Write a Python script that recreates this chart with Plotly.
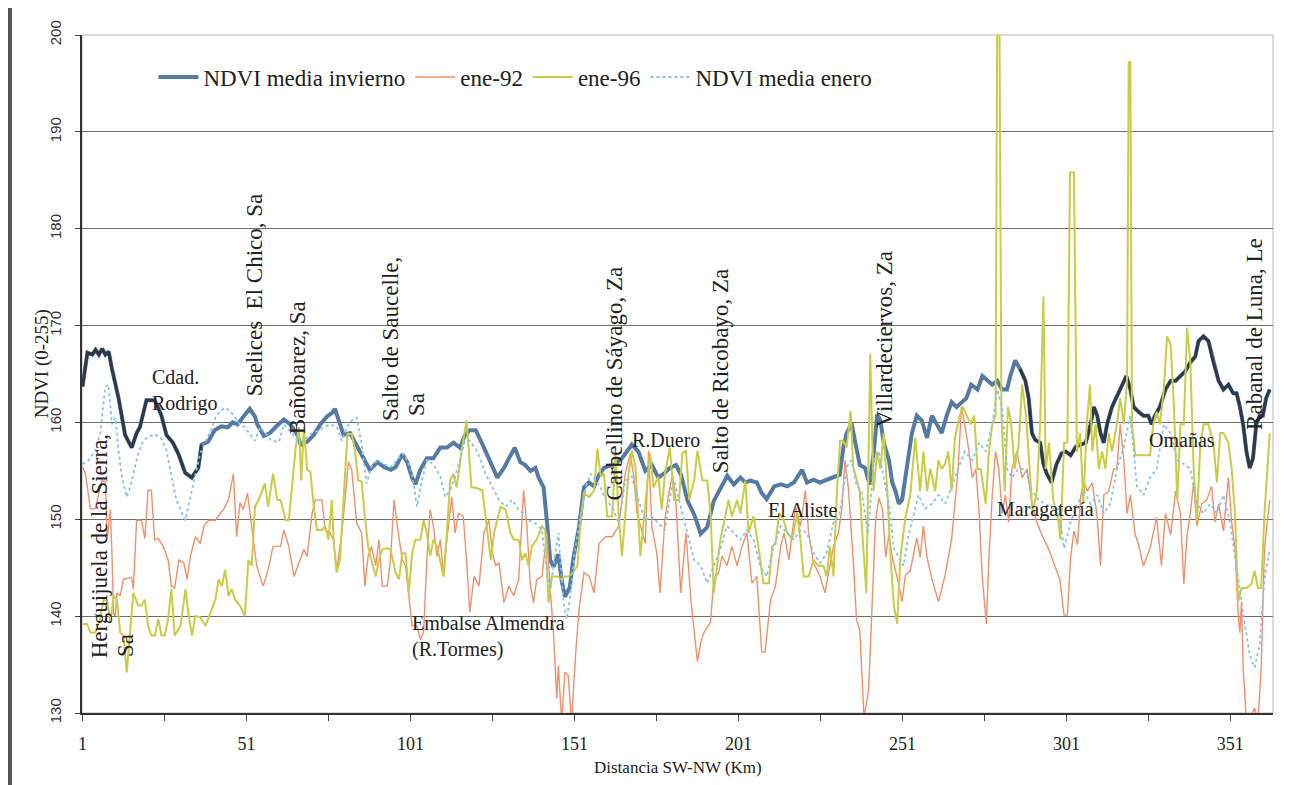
"""NDVI profile SW-NW: winter mean, Jan-92, Jan-96 and January mean."""

import numpy as np
import plotly.graph_objects as go

# ---- data (km along the transect, NDVI value 0-255) ----
inv_km = [1, 2, 2.5, 4, 5, 6, 7, 8, 9, 10, 12, 14, 16, 17.5, 18.5, 20.5, 23, 25, 26.6, 28.6,
          30.3, 32.3, 34.3, 36.3, 37.3, 39.3, 41.3, 43.3, 45.3, 46.8, 48.3, 50.5, 52, 53.6, 54.3, 56.3,
          58.1, 60.1, 62.4, 64.4, 66.5, 67.5, 69.5, 71.5, 73.5, 75.5, 77.1, 78, 79.5, 80.6, 82.6,
          84.6, 86.6, 88.6, 90.9, 92.9, 95, 96.5, 98.5, 100, 101.5, 102.5, 104, 106, 108, 110.1,
          112.1, 114.1, 116.1, 117.6, 119.1, 120.9, 123, 125, 127.5, 129.5, 131, 132.8, 134.5, 136,
          137.6, 139.1, 140.1, 141.6, 142.6, 143.6, 144.6, 146.1, 147.1, 148.1, 149.6, 150.6, 152.4,
          153.9, 155.4, 157, 158.5, 160, 161.5, 163.5, 165.5, 167, 168.5, 170.5, 172.6, 174.6, 176.6,
          178.6, 180.1, 182, 183.5, 185.5, 187.5, 189.5, 191.5, 193.5, 195.6, 197.6, 199.6, 201.6,
          203.1, 204.6, 206.6, 208.1, 209.6, 211.9, 213.9, 215.9, 217.9, 220.4, 221.9, 223.9, 225.9,
          227.9, 229.9, 231.9, 233, 234, 235.5, 237, 238, 239.6, 241, 242.3, 243.3, 244.3, 245.3,
          246.9, 247.9, 248.9, 249.9, 250.9, 252.4, 253.9, 255.4, 256.9, 258.5, 260, 261.5, 263,
          264.5, 266, 267.5, 269, 270.5, 272, 273.9, 275.4, 276.9, 278.4, 279.9, 281.4, 282.9, 283.9,
          285.4, 286.9, 288.5, 289.5, 290.5, 291.5, 293, 294, 295, 296.5, 298, 299.5, 300.8, 302.3,
          303.9, 305.4, 306.9, 308.4, 309.4, 310.4, 311.4, 312.4, 313.4, 314.9, 316.4, 317.9, 319.3,
          320.5, 321.5, 323, 324.5, 326, 327, 328, 329.5, 331.2, 332.8, 334.3, 335.8, 337.3, 338.8,
          340.3, 341.3, 342.8, 344.3, 345.8, 347.4, 348.9, 350.4, 351.9, 352.9, 353.9, 354.9, 355.9,
          356.9, 357.9, 358.9, 359.9, 360.9, 361.9, 363]
inv_val = [163.7, 166.0, 167.2, 167.0, 167.5, 167.0, 167.6, 167.0, 167.3, 165.5, 162.5, 158.7, 157.4,
           158.9, 159.5, 162.3, 162.3, 160.8, 158.7, 157.9, 156.7, 154.8, 154.3, 155.3, 157.7, 158.0,
           159.2, 159.6, 159.5, 160.0, 159.8, 160.8, 161.4, 160.6, 159.8, 158.6, 158.9, 159.6, 160.3,
           159.8, 158.7, 157.7, 158.0, 158.7, 159.8, 160.6, 161.0, 161.4, 159.9, 158.7, 158.9, 157.7,
           156.3, 155.1, 155.9, 155.4, 155.1, 155.4, 156.7, 155.9, 154.3, 153.6, 155.1, 156.3, 156.3,
           157.4, 157.4, 157.9, 157.4, 158.7, 159.2, 159.2, 157.7, 156.2, 154.3, 155.3, 156.3, 157.4,
           155.9, 155.6, 155.0, 155.3, 154.3, 153.3, 149.8, 145.8, 145.1, 146.4, 143.7, 142.0, 143.0,
           145.8, 149.2, 153.3, 153.8, 153.4, 154.6, 155.3, 155.5, 155.7, 156.3, 157.0, 157.7, 157.0,
           155.0, 155.6, 154.3, 154.8, 155.3, 155.6, 154.6, 151.9, 150.5, 148.5, 149.2, 151.9, 153.3,
           154.5, 153.6, 154.3, 153.8, 154.0, 153.8, 152.7, 152.1, 153.4, 153.6, 153.4, 153.8, 155.1,
           153.8, 154.1, 153.8, 154.1, 154.3, 154.6, 157.4, 158.9, 159.9, 157.4, 155.6, 155.3, 153.6,
           157.0, 160.8, 160.2, 157.9, 156.1, 153.8, 152.9, 151.6, 152.0, 155.2, 158.9, 160.7, 160.2,
           158.4, 160.7, 159.8, 158.9, 160.7, 162.1, 161.6, 162.1, 162.5, 163.9, 163.4, 164.8, 164.3,
           163.9, 164.3, 163.4, 163.4, 164.8, 166.4, 165.5, 164.3, 162.5, 158.9, 158.2, 157.9, 155.7,
           154.7, 153.8, 155.7, 156.8, 157.0, 156.6, 157.5, 157.7, 157.9, 159.8, 161.6, 160.7, 158.9,
           157.9, 159.8, 161.6, 162.7, 163.9, 164.8, 163.4, 161.6, 161.1, 160.7, 160.7, 159.8, 160.7,
           161.6, 163.4, 164.3, 164.3, 164.8, 165.3, 166.2, 166.8, 168.4, 168.9, 168.4, 166.2, 164.3,
           163.4, 163.9, 163.0, 163.0, 161.6, 159.8, 157.0, 155.3, 156.3, 159.8, 160.7, 160.7, 162.5,
           163.4]

e92_km = [1, 1.9, 3.4, 4.9, 6.9, 8, 8.5, 9.5, 10, 10.5, 11, 11.5, 12.5, 13.5, 16, 16.5, 17.5, 19, 20,
          21, 22, 23, 24.1, 25.6, 27.1, 28.1, 29.1, 30.4, 31.9, 32.9, 33.9, 35.4, 36.9, 38, 39.5, 41.5,
          43, 44, 45.5, 47, 48, 49, 50, 51.3, 52.1, 54.1, 56.1, 57.6, 59.1, 61.4, 62.4, 63.9, 65.5, 67,
          68.5, 69.5, 71, 72, 74, 75, 76.5, 77.5, 78.5, 80.1, 81.1, 82.1, 83.1, 84.6, 86.1, 87.1, 88.1,
          89.1, 90.4, 91.4, 92.4, 93.9, 94.9, 96, 97, 98.5, 99.5, 100.5, 101.5, 103, 104, 105, 106, 107,
          108, 109.1, 110.1, 111.1, 112.1, 113.6, 114.6, 115.6, 117.1, 118.1, 119.1, 120.4, 121.9,
          123.4, 124.9, 126, 127, 128, 129.5, 131, 132.5, 134, 135.5, 136.5, 137.5, 138.5, 139.5, 141.1,
          142.6, 143.6, 144.6, 145.6, 146.1, 147.1, 148.1, 149.1, 150.1, 151.4, 152.4, 153.9, 155.5,
          157, 158.5, 160.5, 162.5, 164.5, 166.5, 168, 169.1, 170.1, 171.1, 172.6, 173.6, 174.6, 176.1,
          177.1, 178.6, 179.6, 180.9, 181.9, 183.4, 185, 186.5, 188.5, 189.5, 190.5, 192.5, 193.5, 195,
          196, 197.5, 199, 200.6, 202.1, 203.6, 205.1, 206.6, 208.1, 209.1, 210.8, 212.3, 213.9, 214.9,
          216.4, 217.4, 218.4, 219.9, 221.4, 222.4, 223.9, 225.9, 227.4, 228.5, 230, 231.5, 232.5,
          233.5, 234.5, 236, 237, 238, 239.3, 240.7, 241.8, 242.8, 243.8, 244.9, 245.9, 246.9, 247.9,
          248.9, 249.9, 250.9, 251.9, 253.4, 255.4, 256.4, 257.4, 258.5, 260, 262, 264, 266, 267, 268,
          269, 270, 271.3, 272.3, 273.4, 274.4, 275.4, 276.6, 277.4, 278.4, 279.4, 280.4, 281.4, 282.4,
          283.4, 284.4, 285.9, 287.5, 289, 290.5, 292, 293.5, 295.5, 297.5, 299, 300.3, 301.3, 302.3,
          303.3, 304.4, 305.4, 306.4, 307.4, 308.9, 310.4, 311.4, 312.4, 313.9, 315.4, 316.4, 317.4,
          318.5, 319.5, 320.5, 322, 323, 324.5, 326.5, 328.5, 330, 331.2, 332.8, 334.3, 335.8, 336.8,
          337.8, 338.8, 339.8, 340.8, 342.3, 343.8, 345.3, 346.3, 347.4, 348.9, 350.4, 351.4, 352.4,
          353.4, 353.9, 354.4, 354.9, 355.9, 356.9, 358.4, 359.4, 360.4, 361.4, 363]
e92_val = [155.4, 154.7, 151.1, 151.1, 154.0, 153.9, 147.9, 151.0, 146.2, 140.2, 140.0, 142.4, 142.1,
           143.8, 144.0, 142.8, 149.9, 149.9, 148.0, 153.0, 153.0, 147.9, 148.0, 147.2, 145.8, 143.1,
           142.9, 145.8, 145.5, 143.8, 146.2, 148.2, 147.5, 149.3, 149.9, 149.9, 150.6, 151.0, 152.0,
           154.7, 148.2, 151.7, 151.0, 152.7, 150.6, 145.2, 143.1, 144.8, 147.2, 147.2, 148.9, 147.2,
           144.1, 145.5, 146.9, 146.2, 150.6, 152.0, 152.0, 148.9, 148.6, 147.9, 144.8, 148.6, 152.7,
           155.9, 155.1, 149.6, 148.6, 143.1, 146.2, 147.2, 145.2, 147.9, 143.1, 143.1, 145.8, 152.0,
           149.3, 145.8, 145.2, 141.7, 139.0, 139.0, 137.6, 138.3, 145.8, 151.0, 149.3, 146.2, 147.9,
           144.1, 147.9, 152.3, 148.6, 150.6, 150.3, 145.8, 140.4, 144.1, 143.1, 148.6, 149.9, 146.5,
           145.2, 145.5, 141.4, 143.1, 142.1, 143.8, 153.0, 149.3, 143.4, 141.4, 143.8, 144.1, 148.6,
           142.8, 138.3, 131.5, 134.9, 129.0, 134.2, 133.9, 129.0, 136.3, 140.7, 144.5, 144.1, 142.4,
           147.5, 148.2, 148.2, 149.3, 154.7, 156.8, 154.4, 150.6, 149.3, 147.5, 157.1, 149.3, 146.5,
           142.4, 150.0, 152.3, 154.7, 152.0, 142.4, 148.6, 141.7, 135.3, 137.3, 138.3, 139.4, 143.8,
           144.5, 146.2, 145.2, 147.2, 145.2, 147.2, 148.6, 143.4, 144.1, 136.3, 136.3, 141.7, 143.1,
           147.2, 148.6, 145.8, 148.6, 151.3, 149.3, 153.0, 148.6, 145.5, 144.1, 142.4, 144.5, 147.2,
           148.6, 151.0, 156.1, 153.3, 145.8, 139.7, 138.5, 129.5, 132.4, 141.5, 149.7, 152.2, 151.1,
           146.1, 148.4, 146.1, 144.7, 143.3, 141.5, 144.2, 144.7, 148.1, 146.1, 149.3, 146.1, 143.8,
           141.5, 144.2, 147.9, 151.6, 155.2, 161.6, 159.8, 157.0, 154.3, 155.2, 150.6, 143.8, 139.2,
           146.1, 152.5, 157.0, 155.2, 150.6, 152.5, 149.7, 155.2, 157.0, 154.3, 155.2, 151.6, 149.7,
           148.4, 147.0, 145.2, 143.8, 140.1, 140.1, 146.1, 148.8, 147.4, 152.5, 153.8, 152.9, 153.8,
           150.2, 145.2, 152.5, 152.9, 155.2, 155.2, 159.8, 156.1, 150.6, 152.5, 148.4, 147.4, 145.2,
           147.0, 150.2, 145.2, 150.6, 148.4, 152.9, 150.6, 143.3, 148.4, 150.6, 153.8, 149.3, 151.6,
           152.0, 153.4, 149.7, 151.6, 148.8, 154.3, 149.7, 147.0, 140.1, 138.3, 141.5, 134.7, 129.0,
           129.5, 130.5, 129.0, 134.7, 147.0, 152.0]

e96_km = [1, 2.4, 3.4, 4.9, 6.4, 7.4, 8.5, 9.5, 10.5, 11.5, 12.5, 13.5, 14.5, 15.5, 16.5, 18, 19, 20,
          21, 22, 23.1, 24.1, 25.1, 26.1, 27.1, 28.1, 29.1, 30.9, 32.4, 33.4, 34.4, 35.4, 36.9, 38.5,
          40, 41.5, 42.5, 43.5, 44.5, 45.5, 46.5, 47.5, 49, 50.5, 51.6, 52.6, 53.6, 55.1, 56.6, 57.6,
          59.1, 60.4, 61.4, 62.9, 63.9, 64.9, 66, 67, 67.7, 68.5, 69.5, 70.5, 71.5, 72.5, 74, 75, 76,
          77, 77.7, 78.5, 79.5, 80.6, 81.8, 83.1, 84.1, 85.1, 86.1, 87.1, 88.1, 89.1, 90.4, 91.4, 92.4,
          93.9, 94.9, 96.5, 97.5, 98.5, 99.5, 100.5, 101.5, 102.5, 104, 105, 106, 107, 108, 109.1,
          110.1, 111.1, 112.1, 113.1, 114.1, 115.1, 116.6, 118.1, 119.6, 121.4, 122.9, 123.9, 125.5,
          126.5, 127.5, 128.5, 130, 131.5, 132.5, 134, 135, 136, 137, 138, 139.5, 141.1, 142.1, 143.1,
          144.1, 145.6, 147.1, 148.1, 149.1, 150.6, 151.9, 152.9, 153.9, 155.5, 157, 158, 159, 160,
          161, 162.5, 163.5, 164.5, 165.5, 166.5, 167.5, 168.5, 169.6, 171.1, 172.1, 173.1, 174.1,
          175.1, 176.6, 177.6, 178.6, 180.1, 181.4, 182.9, 183.9, 185, 186, 187.5, 188.5, 190, 191.5,
          192.5, 193.5, 194.5, 195.5, 197, 198, 199, 200.6, 201.6, 203.1, 204.1, 205.6, 207.1, 208.6,
          210.3, 211.3, 212.3, 213.4, 214.4, 215.9, 217.4, 218.9, 219.9, 220.9, 222.4, 223.9, 225.4,
          226.9, 227.9, 228.9, 230, 231, 232, 233, 234, 235.2, 236, 237, 238, 239, 240, 241.2, 242.2,
          243.3, 244.3, 245.3, 246.4, 247.4, 248.4, 249.4, 250.4, 251.9, 253.4, 254.9, 256.4, 257.4,
          258.5, 259.5, 261, 262, 263, 264, 265, 266, 267, 268.5, 269.5, 270.6, 271.8, 272.9, 273.9,
          274.9, 276.4, 277.4, 278.4, 279.4, 279.9, 280.6, 281.2, 282.2, 283.2, 284.2, 285.2, 286.4,
          287.5, 288.7, 289.7, 290.7, 292, 293, 294, 294.7, 295.7, 297, 298.5, 299.2, 300.3, 301.3,
          302.1, 303.3, 304.2, 305.2, 306.2, 307.2, 308.2, 308.9, 309.9, 310.9, 311.9, 312.9, 313.9,
          314.9, 316.4, 317.4, 318.5, 319.5, 320, 320.5, 321, 322, 323.5, 325, 326.5, 327.5, 328.5,
          329.5, 330.7, 331.7, 332.8, 333.8, 334.8, 335.8, 336.8, 337.8, 338.8, 339.8, 340.8, 341.8,
          342.8, 344.3, 345.8, 346.9, 347.9, 348.9, 350.4, 351.4, 352.4, 353.4, 354.4, 355.9, 357.4,
          358.4, 359.4, 360.4, 361.4, 363]
e96_val = [139.2, 139.2, 138.3, 138.3, 139.7, 141.7, 141.6, 139.4, 142.1, 141.7, 138.3, 138.0, 134.2,
           138.0, 142.4, 141.1, 141.1, 141.7, 139.0, 138.0, 138.0, 139.7, 138.0, 138.0, 139.7, 142.8,
           138.0, 139.0, 142.8, 140.0, 138.0, 140.0, 139.9, 139.0, 140.4, 141.7, 143.8, 143.1, 144.8,
           142.1, 142.8, 141.7, 141.1, 140.0, 145.8, 145.2, 151.3, 152.3, 153.7, 151.3, 154.7, 152.0,
           152.0, 149.9, 149.9, 153.3, 157.4, 159.5, 154.0, 159.5, 155.1, 154.9, 151.3, 148.9, 148.9,
           149.3, 147.9, 152.0, 147.2, 144.5, 145.8, 152.0, 158.8, 158.8, 157.1, 154.0, 153.9, 150.3,
           147.2, 145.8, 144.1, 145.8, 146.9, 147.0, 146.9, 144.5, 143.8, 146.5, 146.5, 142.4, 146.5,
           147.9, 147.9, 149.9, 148.6, 146.2, 147.9, 147.2, 145.8, 144.1, 148.6, 154.0, 154.7, 153.3,
           157.1, 160.2, 153.3, 153.2, 153.0, 150.3, 145.8, 148.6, 149.9, 151.3, 151.0, 148.6, 147.9,
           147.9, 145.8, 146.5, 145.2, 147.2, 147.9, 149.3, 148.9, 141.4, 144.1, 144.1, 143.8, 144.1,
           144.1, 144.5, 145.2, 149.9, 152.7, 152.3, 153.0, 157.3, 154.4, 154.7, 150.3, 150.3, 156.8,
           150.3, 146.2, 151.0, 154.7, 157.1, 155.4, 146.2, 149.9, 153.3, 156.8, 153.3, 154.4, 151.0,
           154.7, 157.4, 152.0, 152.0, 156.8, 157.1, 152.0, 154.0, 157.1, 154.0, 154.0, 150.6, 142.4,
           145.2, 147.9, 150.3, 152.0, 150.3, 152.0, 150.6, 154.0, 148.6, 150.3, 147.2, 143.4, 143.4,
           147.2, 147.5, 150.6, 150.3, 148.6, 147.9, 150.6, 147.9, 144.1, 144.1, 145.8, 145.2, 145.2,
           144.1, 147.2, 144.1, 152.7, 158.1, 158.1, 157.4, 161.2, 155.4, 154.0, 152.9, 147.4, 142.4,
           167.1, 152.9, 157.0, 155.2, 158.9, 152.9, 146.1, 141.1, 139.2, 146.1, 150.2, 152.5, 158.4,
           152.9, 157.0, 152.9, 155.2, 152.9, 156.1, 155.2, 155.7, 157.0, 152.9, 158.4, 160.7, 161.6,
           160.7, 159.8, 160.7, 155.2, 155.2, 151.6, 157.0, 159.8, 160.7, 201, 201, 160.7, 152.9, 161.6,
           159.8, 155.2, 157.5, 163.9, 160.7, 155.2, 150.6, 152.9, 159.8, 173.0, 155.2, 157.9, 152.0,
           150.0, 147.9, 157.9, 157.9, 185.8, 185.8, 157.0, 158.9, 151.6, 159.8, 163.9, 157.0, 159.8,
           155.2, 157.0, 155.2, 158.9, 157.0, 159.8, 162.5, 159.8, 164.3, 197.2, 197.2, 159.8, 156.6,
           156.6, 156.6, 156.6, 159.8, 161.1, 159.8, 163.4, 168.9, 168.0, 161.6, 152.0, 159.8, 159.8,
           169.8, 166.2, 155.2, 149.7, 157.5, 159.8, 159.8, 157.9, 153.8, 158.9, 158.9, 157.9, 155.2,
           150.6, 141.5, 142.9, 142.9, 143.3, 144.7, 142.9, 142.9, 150.6, 158.9]

ene_km = [1, 2.9, 4.9, 6.4, 7.9, 8.9, 10, 11, 12, 13, 14.5, 15.5, 16.5, 18, 19.5, 21, 23, 25.1, 26.6,
          28.1, 29.6, 31.4, 32.4, 33.9, 35.4, 36.9, 38.5, 40, 41.5, 43, 44.5, 46, 47.5, 49, 50.5, 52.1,
          53.6, 55.1, 56.6, 58.6, 60.9, 62.4, 64.4, 66.5, 68.5, 70.5, 72.5, 74.5, 76.6, 78.6, 80.1,
          81.6, 83.1, 84.6, 86.1, 87.6, 89.1, 90.9, 92.9, 94.9, 97, 98.5, 100, 101.5, 103, 104.5, 106,
          108, 110.1, 111.6, 113.1, 114.6, 116.1, 117.6, 119.1, 121.4, 123.9, 126, 128, 130, 132, 134,
          135.5, 137, 139, 141.1, 142.6, 143.6, 145.1, 146.1, 147.6, 148.6, 149.6, 151.1, 152.9,
          154.4, 156, 157.5, 159, 160.5, 162.5, 164.5, 166.5, 168.5, 170.5, 172.6, 174.6, 176.6,
          178.6, 180.6, 181.4, 183.4, 185.5, 187.5, 189.5, 191.5, 193.5, 195.5, 197.5, 199.6, 201.6,
          203.6, 205.6, 207.6, 209.6, 211.8, 213.9, 215.9, 217.9, 219.9, 221.9, 223.9, 225.9, 227.9,
          229.9, 231.9, 234, 235.5, 237, 238.5, 240.5, 242.3, 243.8, 245.3, 246.9, 248.4, 249.9,
          251.4, 252.9, 254.4, 255.9, 257.9, 260, 262, 264, 266, 268, 270, 272.3, 274.4, 276.4, 278.4,
          279.9, 281.4, 282.9, 284.4, 286.4, 288.5, 290.5, 292.5, 294.5, 296.5, 298.5, 300.3, 302.3,
          304.4, 306.4, 308.4, 310.4, 312.4, 314.4, 316.4, 318.5, 320.5, 322.5, 324.5, 326.5, 328.5,
          330.7, 332.8, 334.8, 336.8, 338.8, 340.8, 342.8, 344.8, 346.9, 348.9, 350.9, 352.4, 353.9,
          355.4, 356.9, 358.4, 359.9, 361.4, 363]
ene_val = [155.7, 156.1, 157.1, 158.8, 163.6, 163.9, 159.8, 160.5, 157.1, 154.4, 152.3, 153.3, 154.7,
           156.8, 158.1, 158.5, 158.8, 158.3, 157.1, 154.4, 152.0, 150.6, 149.9, 152.3, 154.4, 156.8,
           158.1, 159.0, 160.5, 161.2, 161.5, 161.2, 160.5, 159.8, 159.5, 158.8, 158.1, 159.5, 159.0,
           158.1, 158.0, 159.8, 159.1, 158.1, 158.1, 158.8, 159.1, 159.5, 159.8, 159.5, 158.1, 159.5,
           160.2, 160.5, 157.8, 153.7, 155.4, 156.1, 155.7, 155.4, 156.1, 156.8, 156.1, 154.7, 151.3,
           154.0, 156.1, 155.7, 154.4, 152.3, 153.0, 154.4, 156.1, 158.1, 158.1, 157.0, 154.7, 153.3,
           152.0, 151.3, 152.0, 151.0, 150.6, 149.9, 149.6, 148.9, 144.5, 142.8, 146.5, 148.6, 141.7,
           139.7, 141.7, 146.5, 150.6, 153.3, 154.7, 154.0, 153.3, 152.0, 151.3, 149.6, 154.0, 154.4,
           152.0, 149.9, 150.3, 149.6, 148.9, 153.3, 154.0, 151.3, 148.6, 145.8, 145.2, 143.4, 145.2,
           146.9, 149.3, 148.6, 147.9, 148.9, 147.9, 145.2, 144.1, 147.2, 149.3, 148.6, 147.9, 148.9,
           148.6, 146.5, 145.5, 146.5, 149.6, 150.6, 155.4, 156.1, 153.5, 152.9, 148.6, 156.1, 157.0,
           154.3, 151.6, 147.0, 146.1, 145.2, 148.4, 150.6, 152.5, 151.1, 151.6, 152.5, 151.6, 153.4,
           155.2, 157.0, 156.1, 157.9, 157.0, 159.8, 163.4, 161.6, 155.2, 154.3, 155.2, 155.2, 152.9,
           152.0, 151.6, 151.1, 151.1, 147.0, 149.7, 151.6, 152.9, 151.6, 152.5, 150.6, 151.6, 155.2,
           157.5, 160.7, 153.4, 152.5, 154.3, 155.2, 159.8, 158.9, 156.1, 155.7, 155.2, 151.6, 150.6,
           151.6, 150.6, 152.5, 149.7, 146.1, 142.4, 139.2, 136.0, 134.7, 137.0, 143.8, 147.0]

# place names along the transect: (label, km, value, rotated)
places = [
    ("Herguijuela de la Sierra,", 6.3, 147.2, True),
    ("Sa", 13.9, 137.0, True),
    ("Saelices  El Chico, Sa", 53.5, 173.2, True),
    ("Bañobarez, Sa", 66.4, 165.7, True),
    ("Salto de Saucelle,", 94.7, 168.6, True),
    ("Sa", 103.0, 161.8, True),
    ("Carbellino de Sáyago, Za", 163.3, 164.0, True),
    ("Salto de Ricobayo, Za", 195.4, 165.3, True),
    ("Villardeciervos, Za", 245.4, 168.6, True),
    ("Rabanal de Luna, Le", 358.4, 169.1, True),
    ("Cdad.<br>Rodrigo", 21.6, 163.3, False),
    ("Embalse Almendra<br>(R.Tormes)", 100.8, 137.9, False),
    ("R.Duero", 167.9, 158.2, False),
    ("El Aliste", 209.4, 151.0, False),
    ("Maragatería", 279.2, 151.0, False),
    ("Omañas", 325.5, 158.2, False),
]

SERIF = "Liberation Serif, Times New Roman, serif"

fig = go.Figure()

fig.add_trace(go.Scatter(x=inv_km, y=inv_val, mode="lines", name="NDVI media invierno",
                         line=dict(color="#557aa3", width=4)))
# darker, heavier stretches of the winter curve in the original
inv_x = np.array(inv_km)
inv_y = np.array(inv_val, dtype=object)
dark = (inv_x <= 38) | (inv_x >= 286)
fig.add_trace(go.Scatter(x=inv_km, y=np.where(dark, inv_y, None), mode="lines",
                         showlegend=False, hoverinfo="skip",
                         line=dict(color="#2f3846", width=3)))
fig.add_trace(go.Scatter(x=e92_km, y=e92_val, mode="lines", name="ene-92",
                         line=dict(color="#f2906c", width=1.4)))
fig.add_trace(go.Scatter(x=e96_km, y=e96_val, mode="lines", name="ene-96",
                         line=dict(color="#c9cd45", width=2)))
fig.add_trace(go.Scatter(x=ene_km, y=ene_val, mode="lines", name="NDVI media enero",
                         line=dict(color="#86c3ec", width=1.8, dash="dot")))

for text, km, val, rotated in places:
    fig.add_annotation(x=km, y=val, text=text, showarrow=False,
                       textangle=-90 if rotated else 0,
                       xanchor="center" if rotated else "left",
                       align="left",
                       font=dict(family=SERIF, size=23 if rotated else 20, color="#222"))

# axis titles as annotations to match the original placement
fig.add_annotation(xref="paper", yref="paper", x=-0.034, y=0.515, text="NDVI (0-255)",
                   textangle=-90, showarrow=False, xanchor="center", yanchor="middle",
                   font=dict(family=SERIF, size=19, color="#222"))
fig.add_annotation(xref="paper", yref="paper", x=0.5, y=-0.08, text="Distancia SW-NW (Km)",
                   showarrow=False, xanchor="center", yanchor="middle",
                   font=dict(family=SERIF, size=17, color="#222"))

# scanned page edges and light frame
fig.add_shape(type="line", xref="paper", yref="paper", x0=-0.0605, x1=-0.0605, y0=-0.12, y1=1.05,
              line=dict(color="#555", width=4))
fig.add_shape(type="line", xref="paper", yref="paper", x0=1.0145, x1=1.0145, y0=-0.12, y1=1.05,
              line=dict(color="#777", width=2))
fig.add_shape(type="rect", xref="paper", yref="paper", x0=0, x1=1, y0=0, y1=1,
              line=dict(color="#b5b5b5", width=1), layer="below")

# the html page adds an 8px body margin, so the margins are shifted to compensate
fig.update_layout(
    width=1296, height=785,
    margin=dict(l=74, r=31, t=20, b=80),
    font=dict(family=SERIF, color="#222"),
    paper_bgcolor="white", plot_bgcolor="white",
    showlegend=True,
    legend=dict(orientation="h", x=0.06, y=0.938, xanchor="left", yanchor="middle",
                font=dict(family=SERIF, size=23, color="#222"),
                bgcolor="rgba(0,0,0,0)", itemwidth=40, tracegroupgap=0),
    xaxis=dict(range=[0.85, 364], tick0=1, dtick=50, showgrid=False, zeroline=False,
               showline=True, linecolor="#333", linewidth=1.5,
               ticks="outside", ticklen=6, tickcolor="#444", ticklabelstandoff=8,
               minor=dict(tick0=1, dtick=25, ticks="outside", ticklen=6, tickcolor="#444"),
               tickfont=dict(family=SERIF, size=18, color="#222")),
    yaxis=dict(range=[130, 200], dtick=10, showgrid=True, gridcolor="#6e6e6e", gridwidth=1,
               zeroline=False, showline=True, linecolor="#333", linewidth=1.5,
               ticks="outside", ticklen=5, tickcolor="#444", tickangle=-90,
               ticklabelstandoff=8,
               tickfont=dict(family="Liberation Sans, Arial, sans-serif", size=15, color="#333")),
)

fig.write_html("out.html")
